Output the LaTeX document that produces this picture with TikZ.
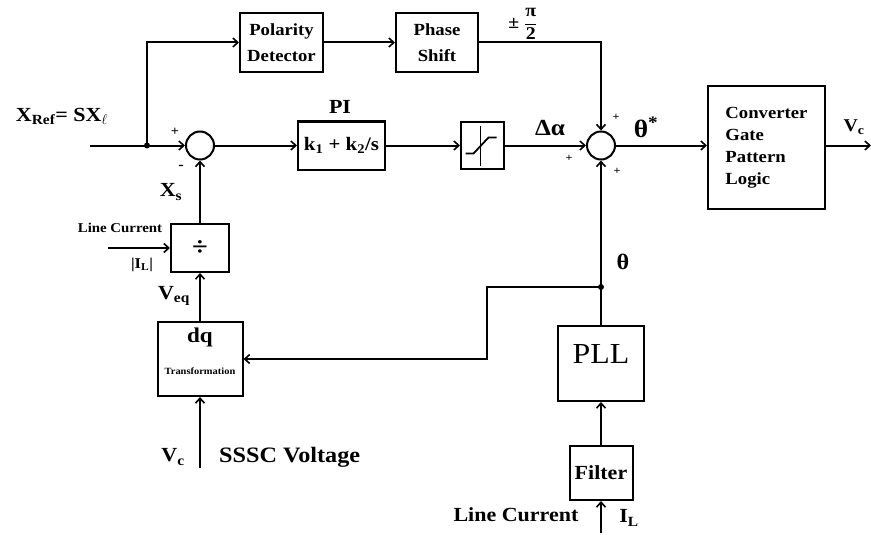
\documentclass[tikz,border=0pt]{standalone}
\usepackage{fontspec}
\setmainfont{Liberation Serif}[FakeStretch=1.1]
\usetikzlibrary{arrows.meta}
\newcommand\fsz[2]{\fontsize{#1}{#2}\selectfont}
\begin{document}
\begin{tikzpicture}[x=1pt,y=-1pt,
  every node/.style={font=\bfseries},
  blk/.style={draw, line width=2pt, inner sep=0pt, align=center},
  wire/.style={line width=2pt},
  arr/.style={wire, -{Straight Barb[length=5pt,width=9pt,line width=1.6pt]}},
  sumc/.style={circle, draw, line width=2pt, minimum size=28pt, inner sep=0pt},
  jdot/.style={circle, fill, inner sep=0pt, minimum size=6pt},
  lbl/.style={inner sep=0pt}]
\useasboundingbox (0,0) rectangle (871,535);

% blocks
\node[blk, minimum width=83pt, minimum height=59pt, font=\bfseries\fsz{17}{26}] (pol) at (281.5,42.5) {Polarity\\Detector};
\node[blk, minimum width=82pt, minimum height=59pt, font=\bfseries\fsz{17}{26}] (ph) at (437,42.5) {Phase\\Shift};
\node[sumc] (s1) at (200,145.5) {};
\node[blk, minimum width=87pt, minimum height=48pt, font=\bfseries\fsz{19}{20}] (pi) at (341.5,145.5) {k\textsubscript{1} + k\textsubscript{2}/s};
\node[blk, minimum width=43pt, minimum height=47pt] (sat) at (482.5,145.5) {};
\draw[line width=1.8pt] ([xshift=-2pt,yshift=-20pt]sat.center) -- ([xshift=-2pt,yshift=20pt]sat.center);
\draw[line width=1.8pt] ([xshift=-17pt,yshift=-8pt]sat.center) -- ([xshift=-9pt,yshift=-8pt]sat.center)
   -- ([xshift=6pt,yshift=8pt]sat.center) -- ([xshift=14pt,yshift=8pt]sat.center);
\node[sumc] (s2) at (601,145.5) {};
\node[blk, minimum width=117pt, minimum height=123pt, align=left, font=\bfseries\fsz{17}{22}] (conv) at (766.5,147.5) {Converter\\Gate\\Pattern\\Logic};
\node[blk, minimum width=58pt, minimum height=48pt, font=\bfseries\fsz{26}{26}] (div) at (200,248) {÷};
\node[blk, minimum width=85pt, minimum height=74pt] (dq) at (200,359) {};
\node[lbl, font=\bfseries\fsz{21}{21}] (dqt) at (200,337) {dq};
\node[lbl, font=\bfseries\fsz{9.5}{10}] (trt) at (200,371) {Transformation};
\node[blk, minimum width=86pt, minimum height=75pt] (pll) at (601,363.5) {};
\node[lbl, font=\mdseries\fsz{29}{29}] (pllt) at (601,354) {PLL};
\node[blk, minimum width=63pt, minimum height=54pt, font=\bfseries\fsz{20}{20}] (fil) at (601,473) {Filter};

% junctions and free ends
\coordinate (in) at (90,145.5);
\node[jdot] (j1) at (147,145.5) {};
\coordinate (out) at (871,145.5);
\coordinate (vcin) at (200,468);
\coordinate (lcin) at (108,248);
\node[jdot] (j2) at (601,287) {};
\coordinate (bend) at (487,287);
\coordinate (ilin) at (601,533);

% connectors
\draw[arr] (in) -- (s1);
\draw[arr] (j1.center) |- (pol.west);
\draw[arr] (pol) -- (ph);
\draw[arr] (ph.east) -| (s2.north);
\draw[arr] (s1) -- (pi);
\draw[arr] (pi) -- (sat);
\draw[arr] (sat) -- (s2);
\draw[arr] (s2) -- (conv.west |- s2);
\draw[arr] (conv.east |- out) -- (out);
\draw[arr] (div) -- (s1);
\draw[arr] (dq) -- (div);
\draw[arr] (vcin) -- (dq);
\draw[arr] (lcin) -- (div);
\draw[arr] (pll) -- (s2);
\draw[arr] (j2.center) -- (bend) |- (dq.east);
\draw[arr] (fil) -- (pll);
\draw[arr] (ilin) -- (fil);

% labels
\node[lbl, font=\bfseries\fsz{20}{20}] (xref) at (62,116) {X\textsubscript{Ref}= SX$_\ell$};
\node[lbl, font=\bfseries\fsz{13}{13}] (p1) at (175,132) {+};
\node[lbl, font=\bfseries\fsz{15}{15}] (m1) at (181,167) {-};
\node[lbl, font=\bfseries\fsz{20}{20}] (xs) at (171,192) {X\textsubscript{s}};
\node[lbl, font=\bfseries\fsz{20}{20}] (pil) at (340,107) {PI};
\node[lbl, font=\bfseries\fsz{18}{18}] (pm) at (523,24) {± $\displaystyle\frac{\mbox{π}}{\mbox{2}}$};
\node[lbl, font=\bfseries\fsz{23}{23}] (da) at (550,128) {Δα};
\node[lbl, font=\bfseries\fsz{25}{25}] (ths) at (646,127) {θ\textsuperscript{*}};
\node[lbl, font=\bfseries\fsz{11}{11}] (p2) at (616,117) {+};
\node[lbl, font=\bfseries\fsz{11}{11}] (p3) at (569,158) {+};
\node[lbl, font=\bfseries\fsz{11}{11}] (p4) at (617,171) {+};
\node[lbl, font=\bfseries\fsz{18}{18}] (vc1) at (854,127) {V\textsubscript{c}};
\node[lbl, font=\bfseries\fsz{13.5}{14}] (lc1) at (120,228) {Line Current};
\node[lbl, font=\bfseries\fsz{15}{15}] (il1) at (142,265) {|I\textsubscript{L}|};
\node[lbl, font=\bfseries\fsz{20}{20}] (veq) at (174,296) {V\textsubscript{eq}};
\node[lbl, font=\bfseries\fsz{22}{22}] (th2) at (623,262) {θ};
\node[lbl, font=\bfseries\fsz{20}{20}] (vc2) at (173,457) {V\textsubscript{c}};
\node[lbl, anchor=west, font=\bfseries\fsz{22}{22}] (sssc) at (219,457) {SSSC Voltage};
\node[lbl, font=\bfseries\fsz{20}{20}] (lc2) at (516,515) {Line Current};
\node[lbl, font=\bfseries\fsz{20}{20}] (il2) at (629,518) {I\textsubscript{L}};
\end{tikzpicture}
\end{document}
